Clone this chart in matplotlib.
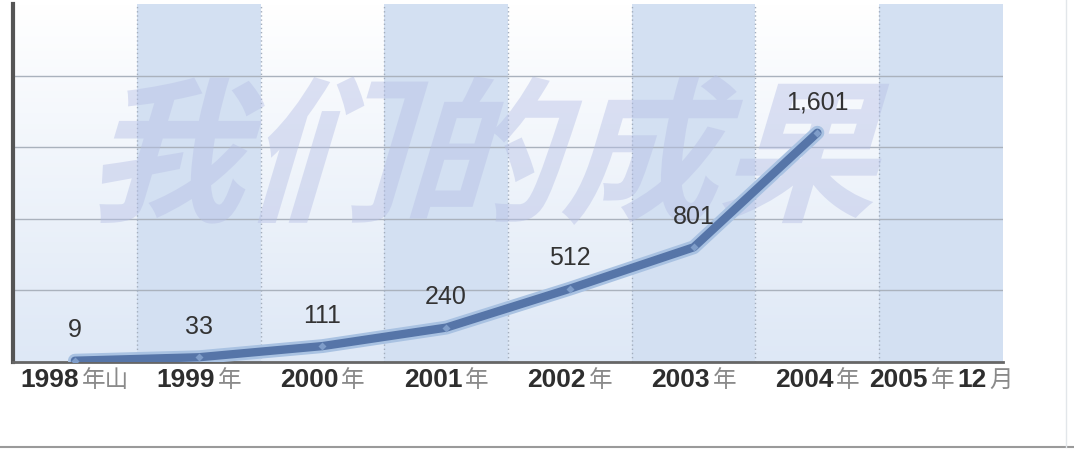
import matplotlib
matplotlib.use('Agg')
import matplotlib.pyplot as plt
import numpy as np
from matplotlib.font_manager import FontProperties
from matplotlib.textpath import TextPath
from matplotlib.patches import PathPatch
from matplotlib.transforms import Affine2D, IdentityTransform
from matplotlib.offsetbox import TextArea, HPacker, AnnotationBbox
from matplotlib.lines import Line2D
import matplotlib.patheffects as pe

plt.rcParams['font.family'] = ['Liberation Sans', 'Noto Sans CJK SC', 'DejaVu Sans']

# data
label_parts = [['1998', '年山'], ['1999', '年'], ['2000', '年'], ['2001', '年'],
               ['2002', '年'], ['2003', '年'], ['2004', '年'], ['2005', '年', '12', '月']]
values = [9, 33, 111, 240, 512, 801, 1601]
value_text = ['9', '33', '111', '240', '512', '801', '1,601']
watermark = '我们的成果'

fig = plt.figure(figsize=(10.74, 4.5), dpi=100)
ax = fig.add_axes([13 / 1074, 88 / 450, 990 / 1074, 358 / 450])
n = len(label_parts)
ax.set_xlim(-0.5, n - 0.5)
ax.set_ylim(0, 2500)

# background: vertical gradient, then blue bands on odd columns
grad = np.linspace(0, 1, 256).reshape(-1, 1)
top = np.array([1.0, 1.0, 1.0])
bot = np.array([222, 232, 246]) / 255
img = bot + (top - bot) * grad
img = img.reshape(256, 1, 3)
ax.imshow(img, extent=(-0.5, n - 0.5, 0, 2500), origin='lower', aspect='auto', zorder=0)
for i in range(1, n, 2):
    ax.axvspan(i - 0.5, i + 0.5, color='#d3e0f2', zorder=0.5, lw=0)

for y in [500, 1000, 1500, 2000]:
    ax.axhline(y, color='#aab2bd', lw=1, zorder=1)
for i in range(1, n):
    ax.axvline(i - 0.5, color='#a3adbc', lw=1, ls=(0, (1, 2)), zorder=1)

# watermark text, slanted
fp = FontProperties(family='Noto Sans CJK SC', weight='bold')
tp = TextPath((0, 0), watermark, size=100, prop=fp)
bb = tp.get_extents()
slant = np.tan(np.radians(16))
w = bb.width + bb.height * slant
tr = (Affine2D().translate(-bb.x0, -bb.y0).skew(slant, 0)
      .scale(825 / w, 150 / bb.height).translate(85, 225))
wm = PathPatch(tr.transform_path(tp), transform=IdentityTransform(),
               facecolor='#b7c0e6', edgecolor='none', alpha=0.45, zorder=2)
wm.set_clip_on(False)
ax.add_artist(wm)

# line
x = np.arange(len(values))
ax.plot(x, values, color='#5675a8', lw=6, solid_capstyle='round', solid_joinstyle='round',
        zorder=3, path_effects=[pe.Stroke(linewidth=10, foreground='#a9c2e2'), pe.Normal()])
ax.plot(x, values, ls='none', marker='D', ms=4, mfc='#7f9dc9', mec='none', zorder=3.5)

for xi, v, t in zip(x, values, value_text):
    ax.annotate(t, (xi, v), xytext=(0, 22), textcoords='offset points',
                ha='center', va='center', fontsize=18, color='#333333', zorder=4)

# tick labels: bold digits, light CJK characters
ax.set_xticks([])
ax.set_yticks([])
for i, parts in enumerate(label_parts):
    boxes = []
    for p in parts:
        if p.isdigit():
            boxes.append(TextArea(p, textprops=dict(fontsize=19, fontweight='bold', color='#2e2e2e')))
        else:
            boxes.append(TextArea(p, textprops=dict(fontsize=17, color='#8a8a8a',
                                                    family=['Noto Sans CJK SC', 'DejaVu Sans'])))
    pack = HPacker(children=boxes, align='baseline', pad=0, sep=2)
    ab = AnnotationBbox(pack, (i, 0), xycoords=ax.get_xaxis_transform(),
                        xybox=(0, -4), boxcoords='offset points',
                        box_alignment=(0.5, 1), frameon=False, pad=0)
    ax.add_artist(ab)

for s in ['top', 'right']:
    ax.spines[s].set_visible(False)
ax.spines['left'].set_color('#555555')
ax.spines['left'].set_linewidth(3)
ax.spines['bottom'].set_color('#666666')
ax.spines['bottom'].set_linewidth(2)

# frame lines of the picture
fig.add_artist(Line2D([0, 1], [3 / 450, 3 / 450], color='#9a9a9a', lw=1.5))
fig.add_artist(Line2D([1066 / 1074, 1066 / 1074], [3 / 450, 1], color='#e2e6ea', lw=1))

fig.savefig('out.png', dpi=100)
